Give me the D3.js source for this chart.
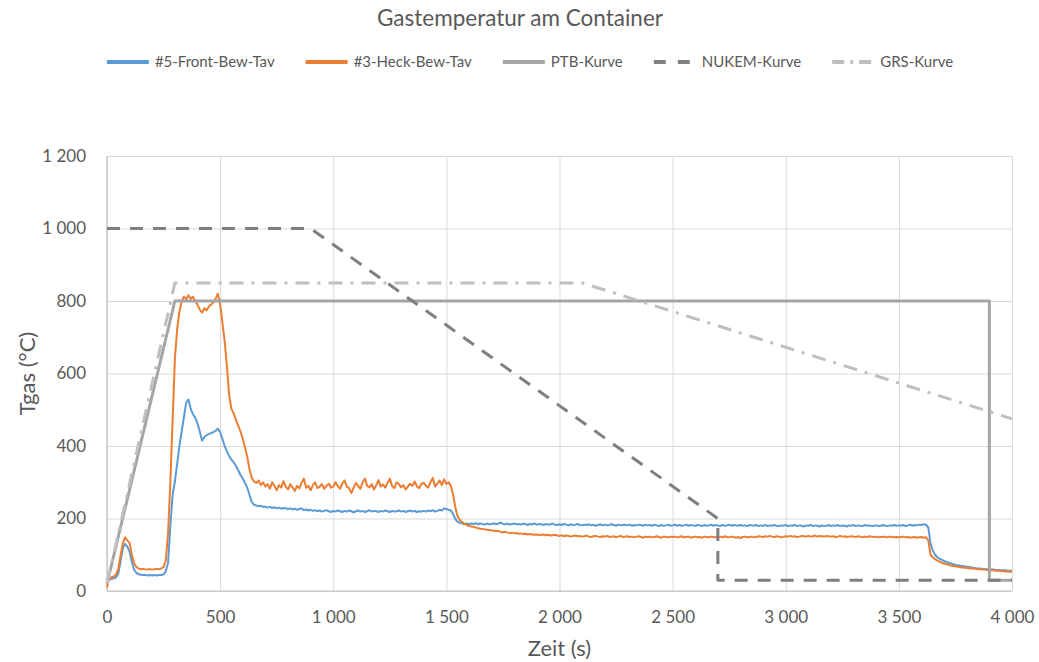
<!DOCTYPE html>
<html><head><meta charset="utf-8">
<script src="https://cdn.jsdelivr.net/npm/d3@7"></script>
<style>
body{margin:0;background:#fff}
text{font-family:Lato,"Open Sans",sans-serif;fill:#595959}
</style>
</head><body>
<svg id="c" width="1039" height="662"></svg>
<script>
// ---------- data ----------
const title = "Gastemperatur am Container";
const xTitle = "Zeit (s)";
const yTitle = "Tgas (°C)";
const xTicks = [0, 500, 1000, 1500, 2000, 2500, 3000, 3500, 4000];
const yTicks = [0, 200, 400, 600, 800, 1000, 1200];
const seriesNames = ["#5-Front-Bew-Tav", "#3-Heck-Bew-Tav", "PTB-Kurve", "NUKEM-Kurve", "GRS-Kurve"];
const sampleStep = 10; // s between measured samples

// #5-Front-Bew-Tav (one row = 100 s)
const frontTemps = [
 30, 32, 33, 35, 38, 48, 82,118,130,122,
108, 80, 58, 50, 46, 45, 44, 44, 43, 44,
 43, 44, 43, 44, 44, 46, 55, 78,180,265,
302,350,400,440,480,520,528,502,488,478,
462,440,415,424,430,433,436,438,442,448,
438,420,400,385,372,362,355,345,333,320,
310,298,285,265,245,238,236,234,235,232,
233,230,232,229,231,228,230,227,229,228,
226,228,225,227,224,226,228,223,225,222,
224,221,223,220,222,219,221,223,220,218,
221,219,222,220,218,221,219,222,220,217,
220,222,219,221,218,220,223,219,221,220,
218,221,219,222,220,218,221,219,220,222,
219,221,218,220,222,219,221,218,220,219,
221,219,222,220,223,219,221,224,222,228,
226,224,222,212,198,191,188,186,185,186,
184,186,185,187,184,186,185,183,186,184,
185,187,184,186,189,185,184,186,183,185,
186,184,185,183,186,184,182,185,184,186,
183,185,184,182,185,183,184,186,183,182,
184,182,185,183,181,184,182,183,185,182,
181,183,182,184,181,183,180,182,184,181,
183,181,182,184,182,180,183,181,182,183,
181,183,180,182,181,183,182,180,183,181,
182,180,183,181,179,182,180,181,183,180,
181,183,180,182,180,181,183,180,182,181,
180,182,181,179,182,180,181,183,180,182,
181,179,182,180,181,183,180,182,181,180,
182,180,181,179,182,181,180,182,179,181,
180,182,179,181,180,182,180,179,181,180,
182,179,181,180,182,179,181,180,178,181,
180,182,179,181,180,178,181,179,180,182,
179,181,180,182,179,181,180,178,181,180,
182,179,181,180,179,182,180,181,179,180,
181,179,180,182,180,179,181,180,182,180,
181,180,182,179,181,183,180,182,181,183,
182,184,183,175,130,112,100, 93, 89, 86,
 83, 80, 78, 76, 74, 72, 71, 70, 69, 68,
 67, 66, 65, 64, 63, 62, 62, 61, 60, 60,
 60, 59, 59, 58, 58, 57, 57, 57, 56, 56,
 56];

// #3-Heck-Bew-Tav (one row = 100 s)
const heckTemps = [
 10, 35, 38, 40, 46, 62, 98,132,148,140,
132,100, 76, 66, 62, 60, 61, 59, 60, 60,
 59, 60, 61, 60, 62, 66, 85,160,300,470,
640,722,770,800,812,805,816,806,812,800,
790,776,768,780,774,785,790,796,806,820,
792,740,690,620,540,502,490,472,456,440,
420,396,370,336,312,302,298,305,292,300,
288,295,282,300,290,278,292,285,303,288,
280,295,286,276,290,283,298,310,285,290,
278,292,300,284,288,295,282,290,296,285,
288,300,290,282,296,305,288,284,270,285,
298,290,282,300,310,290,286,295,280,292,
306,288,294,285,298,310,290,284,300,295,
286,292,280,288,296,290,302,288,284,296,
298,290,285,300,312,288,296,305,292,308,
295,300,290,265,230,205,196,190,185,182,
180,178,177,175,173,172,171,170,169,168,
167,166,165,166,163,162,163,161,160,161,
159,160,158,159,157,158,156,157,156,155,
156,154,155,156,154,155,153,154,155,153,
152,154,151,153,152,150,152,153,151,152,
150,151,153,150,149,151,152,150,149,151,
150,152,149,150,151,148,150,152,149,150,
151,149,150,148,150,151,149,147,150,149,
150,148,149,151,149,147,150,149,148,150,
149,150,148,149,151,148,149,150,147,149,
150,148,149,147,150,149,148,150,149,148,
149,150,148,151,149,148,150,149,147,149,
146,149,150,148,149,150,148,149,151,150,
149,151,150,152,150,149,151,150,148,150,
151,150,152,150,151,149,150,152,151,150,
152,150,151,153,150,152,151,150,152,151,
150,151,149,150,152,150,151,149,150,151,
150,149,151,150,148,150,149,151,150,149,
150,148,149,150,149,148,150,149,148,149,
148,149,150,148,149,147,148,149,147,148,
149,147,148,140,100, 93, 88, 84, 81, 78,
 76, 74, 72, 70, 69, 68, 67, 66, 65, 64,
 64, 63, 62, 62, 61, 60, 60, 59, 59, 58,
 58, 57, 57, 56, 56, 55, 55, 54, 54, 53,
 53];

// design curves (time s, temperature °C)
const ptbTime   = [0, 300, 3900, 3900, 4000];
const ptbTemp   = [20, 800, 800, 30, 30];
const nukemTime = [0, 900, 2700, 2700, 4000];
const nukemTemp = [1000, 1000, 200, 30, 30];
const grsTime   = [0, 300, 2100, 4000];
const grsTemp   = [20, 850, 850, 475];

// ---------- chart ----------
const svg = d3.select("#c");
const L = 107, R = 1012, T = 156, B = 591;
const x = d3.scaleLinear().domain([0, 4000]).range([L, R]);
const y = d3.scaleLinear().domain([0, 1200]).range([B, T]);
const loc = d3.formatLocale({decimal: ",", thousands: "\u00a0", grouping: [3], currency: ["", ""]});
const fmt = loc.format(",");

// grid + y labels
const gy = svg.append("g").attr("transform", `translate(${L},0)`)
  .call(d3.axisLeft(y).tickValues(yTicks).tickSize(-(R - L)).tickPadding(21).tickFormat(fmt));
gy.select(".domain").remove();
gy.selectAll("line").attr("stroke", "#d9d9d9");
gy.selectAll("text").attr("font-size", 17).style("fill", "#595959");

const gx = svg.append("g").attr("transform", `translate(0,${B})`)
  .call(d3.axisBottom(x).tickValues(xTicks).tickSize(-(B - T)).tickPadding(20).tickFormat(fmt));
gx.select(".domain").remove();
gx.selectAll("line").attr("stroke", "#d9d9d9");
gx.selectAll("text").attr("font-size", 17).style("fill", "#595959");

// axis lines
svg.append("line").attr("x1", L).attr("x2", R).attr("y1", B).attr("y2", B).attr("stroke", "#bfbfbf").attr("stroke-width", 1.2);
svg.append("line").attr("x1", L).attr("x2", L).attr("y1", T).attr("y2", B).attr("stroke", "#bfbfbf").attr("stroke-width", 1.2);

const line = d3.line().x(d => x(d[0])).y(d => y(d[1]));
const toPts = arr => arr.map((v, i) => [i * sampleStep, v]);
const zipPts = (ts, vs) => ts.map((t, i) => [t, vs[i]]);

const styles = [
  {color: "#5b9bd5", width: 2, dash: null, legendDash: null},
  {color: "#ed7d31", width: 2, dash: null, legendDash: null},
  {color: "#a5a5a5", width: 3, dash: null, legendDash: null},
  {color: "#7f7f7f", width: 3, dash: "13,10", legendDash: "12,12"},
  {color: "#bfbfbf", width: 3, dash: "14,8,3,8", legendDash: "12,6,3,6"}
];
const data = [
  toPts(frontTemps),
  toPts(heckTemps),
  zipPts(ptbTime, ptbTemp),
  zipPts(nukemTime, nukemTemp),
  zipPts(grsTime, grsTemp)
];

data.forEach((pts, i) => {
  const s = styles[i];
  svg.append("path").attr("d", line(pts)).attr("fill", "none")
    .attr("stroke", s.color).attr("stroke-width", s.width)
    .attr("stroke-linejoin", "round")
    .attr("stroke-dasharray", s.dash);
});

// title
svg.append("text").attr("x", 520).attr("y", 26).attr("text-anchor", "middle")
  .attr("font-size", 22.5).text(title);

// axis titles
svg.append("text").attr("x", (L + R) / 2).attr("y", 656).attr("text-anchor", "middle")
  .attr("font-size", 22).text(xTitle);
svg.append("text").attr("transform", `translate(35,${(T + B) / 2}) rotate(-90)`)
  .attr("text-anchor", "middle").attr("font-size", 22).text(yTitle);

// legend
const lg = svg.append("g");
const symW = 42, symGap = 6, itemGap = 31;
let cx = 0;
seriesNames.forEach((name, i) => {
  const g = lg.append("g");
  g.append("line").attr("x1", 0).attr("x2", symW).attr("y1", 0).attr("y2", 0)
    .attr("stroke", styles[i].color).attr("stroke-width", 4)
    .attr("stroke-dasharray", styles[i].legendDash);
  const t = g.append("text").attr("x", symW + symGap).attr("y", 5).attr("font-size", 15).text(name);
  const w = symW + symGap + t.node().getComputedTextLength();
  g.attr("transform", `translate(${cx},62)`);
  cx += w + itemGap;
});
const total = cx - itemGap;
lg.attr("transform", `translate(${530 - total / 2},0)`);
</script>
</body></html>
